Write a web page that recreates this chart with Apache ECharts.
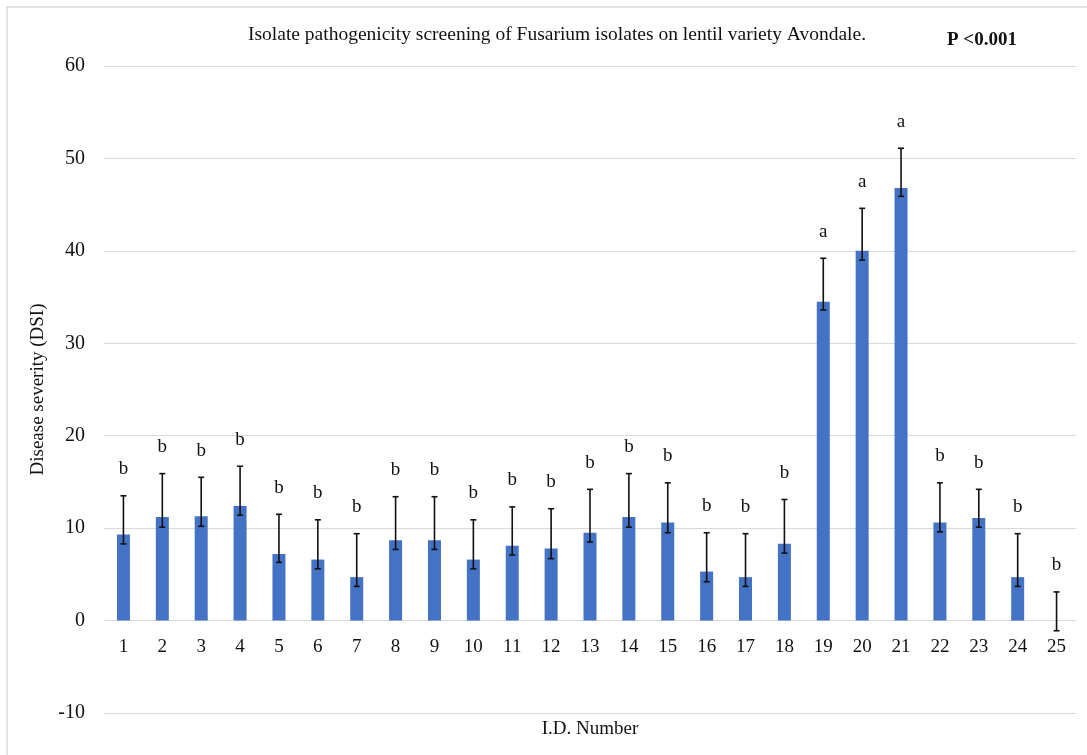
<!DOCTYPE html>
<html>
<head>
<meta charset="utf-8">
<title>Isolate pathogenicity screening</title>
<script src="https://cdn.jsdelivr.net/npm/echarts@6/dist/echarts.min.js"></script>
<style>
  html, body { margin: 0; padding: 0; background: #fff; }
  #chart { width: 1087px; height: 755px; }
</style>
</head>
<body>
<div id="chart"></div>
<script>
// isolate ids on the x axis
var isolates = ['1', '2', '3', '4', '5', '6', '7', '8', '9', '10', '11', '12', '13',
    '14', '15', '16', '17', '18', '19', '20', '21', '22', '23', '24', '25'];
// mean disease severity index
var dsiMean = [9.3, 11.2, 11.3, 12.4, 7.2, 6.6, 4.7, 8.7, 8.7, 6.6, 8.1, 7.8, 9.5,
    11.2, 10.6, 5.3, 4.7, 8.3, 34.5, 40.0, 46.8, 10.6, 11.1, 4.7, 0];
// error bar ends (upper / lower)
var errHigh = [13.5, 15.9, 15.5, 16.7, 11.5, 10.9, 9.4, 13.4, 13.4, 10.9, 12.3, 12.1, 14.2,
    15.9, 14.9, 9.5, 9.4, 13.1, 39.2, 44.6, 51.1, 14.9, 14.2, 9.4, 3.1];
var errLow = [8.3, 10.1, 10.2, 11.4, 6.3, 5.6, 3.7, 7.7, 7.7, 5.6, 7.1, 6.7, 8.5,
    10.1, 9.5, 4.2, 3.7, 7.3, 33.6, 39.0, 45.9, 9.6, 10.1, 3.7, -1.1];
// significance groups
var groups = ['b', 'b', 'b', 'b', 'b', 'b', 'b', 'b', 'b', 'b', 'b', 'b', 'b',
    'b', 'b', 'b', 'b', 'b', 'a', 'a', 'a', 'b', 'b', 'b', 'b'];
var yTicks = { min: -10, max: 60, step: 10 };

var font = "'Liberation Serif', 'Times New Roman', serif";

var errData = isolates.map(function (id, i) {
    return [i, errLow[i], errHigh[i], groups[i]];
});

function renderErr(params, api) {
    var x = api.value(0);
    var lo = api.coord([x, api.value(1)]);
    var hi = api.coord([x, api.value(2)]);
    var cap = 3;
    var st = { stroke: '#111', lineWidth: 1.6 };
    return {
        type: 'group',
        children: [
            { type: 'line', shape: { x1: hi[0], y1: hi[1], x2: lo[0], y2: lo[1] }, style: st },
            { type: 'line', shape: { x1: hi[0] - cap, y1: hi[1], x2: hi[0] + cap, y2: hi[1] }, style: st },
            { type: 'line', shape: { x1: lo[0] - cap, y1: lo[1], x2: lo[0] + cap, y2: lo[1] }, style: st },
            {
                type: 'text',
                x: hi[0], y: hi[1] - 17,
                style: {
                    text: api.value(3),
                    fill: '#111',
                    font: '19px ' + font,
                    textAlign: 'center',
                    textVerticalAlign: 'bottom'
                }
            }
        ]
    };
}

var myChart = echarts.init(document.getElementById('chart'));

var option = {
    animation: false,
    backgroundColor: '#fff',
    textStyle: { fontFamily: font, color: '#111' },
    title: {
        text: 'Isolate pathogenicity screening of Fusarium isolates on lentil variety Avondale.',
        left: 552,
        top: 20,
        textAlign: 'center',
        textStyle: { fontFamily: font, fontSize: 19.5, fontWeight: 'normal', color: '#111' }
    },
    graphic: [
        {
            type: 'rect',
            shape: { x: 7, y: 7, width: 1100, height: 800 },
            style: { fill: 'none', stroke: '#d9d9d9', lineWidth: 1.5 },
            silent: true
        },
        {
            type: 'text',
            left: 947,
            top: 31,
            style: { text: 'P <0.001', font: 'bold 19px ' + font, fill: '#111' }
        }
    ],
    grid: { left: 104, right: 11, top: 66, bottom: 42, outerBoundsMode: 'none', containLabel: false },
    xAxis: {
        type: 'category',
        data: isolates,
        name: 'I.D. Number',
        nameLocation: 'middle',
        nameGap: 7,
        nameTextStyle: { fontFamily: font, fontSize: 19, color: '#111' },
        axisLine: { show: true, lineStyle: { color: '#d9d9d9' } },
        axisTick: { show: false },
        // category labels sit just under the zero line, not the -10 edge
        axisLabel: { fontFamily: font, fontSize: 19, color: '#111', margin: -75 }
    },
    yAxis: {
        type: 'value',
        min: yTicks.min,
        max: yTicks.max,
        interval: yTicks.step,
        name: 'Disease severity (DSI)',
        nameLocation: 'middle',
        nameGap: 44,
        nameTextStyle: { fontFamily: font, fontSize: 19, color: '#111' },
        axisLine: { show: false },
        axisTick: { show: false },
        axisLabel: { fontFamily: font, fontSize: 20, color: '#111', margin: 19 },
        splitLine: { lineStyle: { color: '#d9d9d9', width: 1.2 } }
    },
    series: [
        {
            type: 'bar',
            data: dsiMean,
            barWidth: 13,
            itemStyle: { color: '#4472C4' }
        },
        {
            type: 'custom',
            data: errData,
            renderItem: renderErr,
            encode: { x: 0, y: [1, 2] },
            z: 5
        }
    ]
};

myChart.setOption(option);
</script>
</body>
</html>
